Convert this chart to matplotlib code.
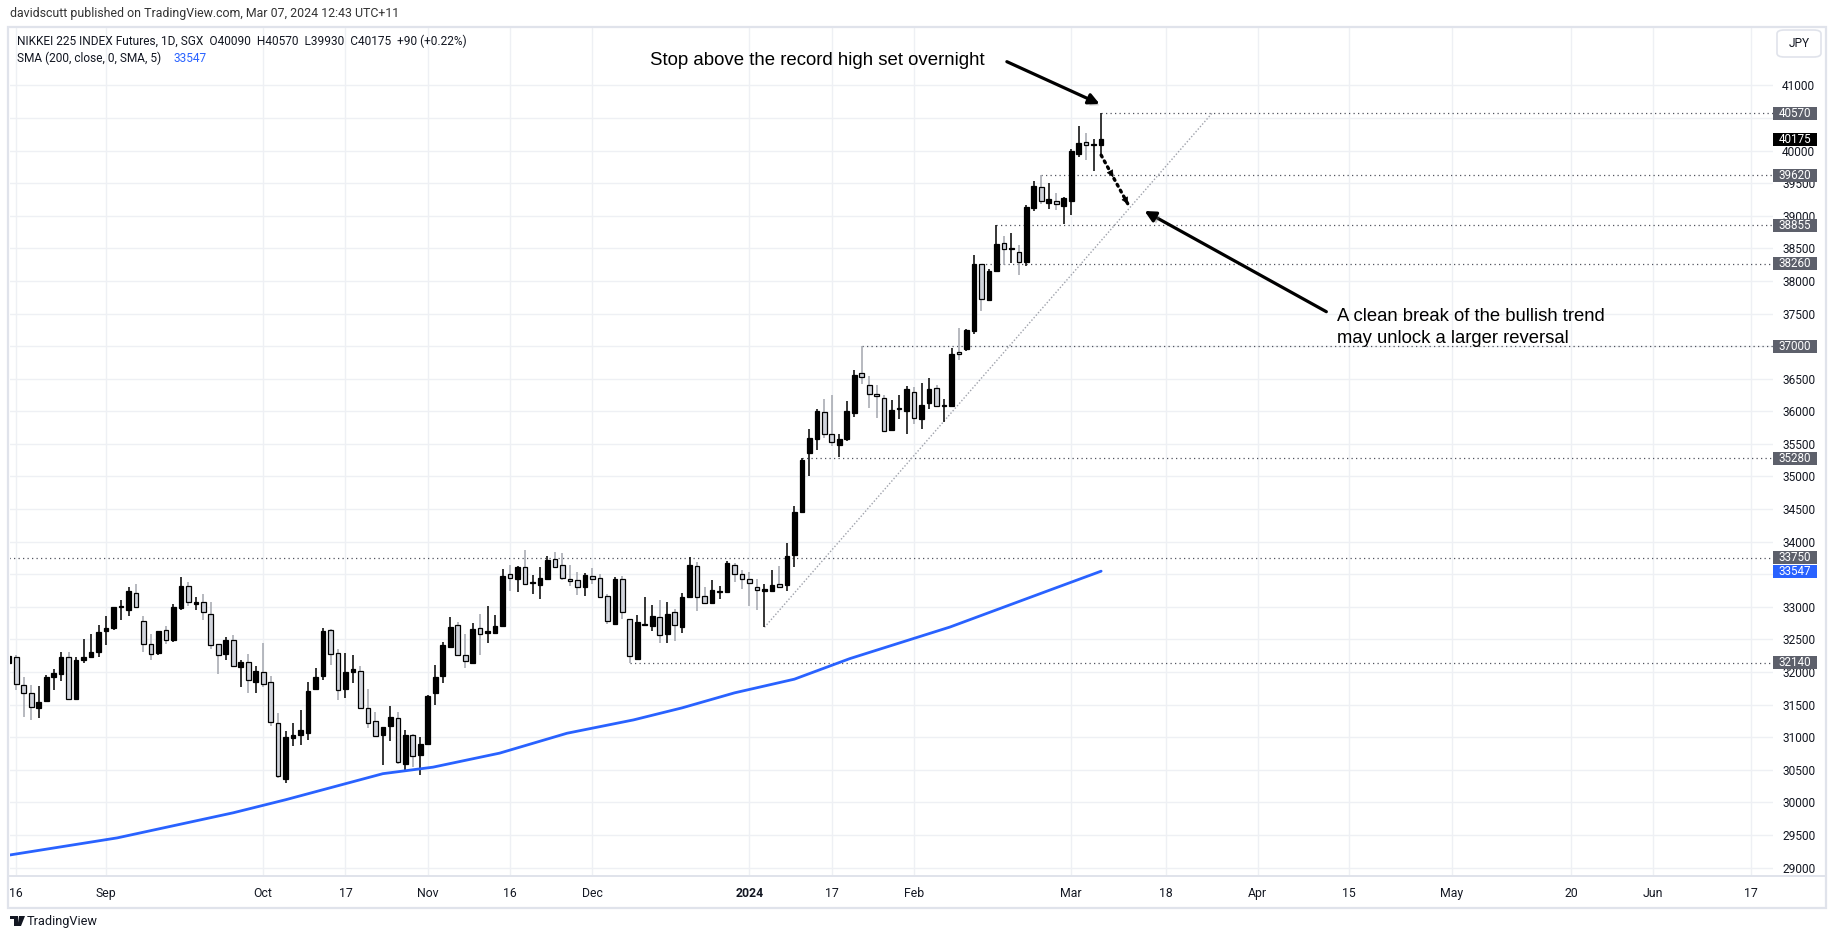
import matplotlib
matplotlib.use("Agg")
import matplotlib.pyplot as plt
import matplotlib.patheffects as pe
from matplotlib.lines import Line2D
from matplotlib.patches import Rectangle, FancyBboxPatch, Polygon
from matplotlib.transforms import blended_transform_factory

# 日足 OHLC（2023-08-15 〜 2024-03-07, 1/1 休場）: バー番号 0..146
OPENS = [32145, 32230, 31795, 31675, 31440, 31550, 31920, 31965, 32230, 31585,
         32180, 32230, 32300, 32625, 32670, 32990, 32950, 33210, 32780, 32430,
         32285, 32645, 32495, 32975, 33320, 33050, 33075, 32890, 32435, 32275,
         32490, 32075, 32150, 31845, 32000, 31845, 31215, 30360, 30980, 31030,
         31060, 31740, 31935, 32645, 32295, 31735, 32000, 32015, 31445, 31250,
         31030, 31165, 31295, 30585, 31035, 30720, 30900, 31675, 31935, 32385,
         32715, 32255, 32145, 32670, 32605, 32605, 32705, 33500, 33430, 33605,
         33360, 33340, 33430, 33730, 33635, 33430, 33405, 33310, 33480, 33435,
         33160, 32740, 33420, 32810, 32205, 32725, 32710, 32840, 32580, 32915,
         32685, 33145, 33620, 33160, 33060, 33225, 33225, 33635, 33500, 33420,
         33310, 33250, 33245, 33355, 33335, 33795, 34455, 35360, 35575, 35995,
         35655, 35485, 35580, 35980, 36590, 36410, 36270, 36205, 35715, 36035,
         36005, 36300, 35880, 36130, 36360, 36085, 36075, 36905, 36955, 37230,
         38255, 37705, 38150, 38585, 38485, 38445, 38295, 39120, 39440, 39190,
         39230, 39155, 39220, 39945, 40130, 40080, 40090]
HIGHS = [32250, 32265, 31920, 31805, 31790, 31960, 32050, 32310, 32300, 32230,
         32510, 32585, 32725, 32865, 33000, 33110, 33310, 33355, 32865, 32585,
         32630, 32700, 33040, 33460, 33385, 33155, 33195, 33075, 32435, 32540,
         32560, 32190, 32280, 32085, 32440, 31945, 31370, 31100, 31215, 31410,
         31850, 32065, 32680, 32660, 32360, 32295, 32265, 32095, 31745, 31390,
         31160, 31485, 31390, 31115, 31055, 30995, 31645, 32105, 32460, 32845,
         32770, 32585, 32745, 32890, 33015, 32870, 33575, 33640, 33625, 33870,
         33485, 33610, 33780, 33835, 33820, 33635, 33530, 33520, 33595, 33505,
         33195, 33455, 33470, 32810, 32870, 33145, 33030, 33105, 33075, 32965,
         33210, 33770, 33680, 33305, 33410, 33315, 33700, 33675, 33565, 33530,
         33420, 33350, 33560, 33620, 33975, 34545, 35280, 35725, 36030, 36195,
         36245, 35655, 36155, 36630, 37000, 36535, 36400, 36245, 36180, 36245,
         36385, 36375, 36440, 36505, 36410, 36195, 36965, 37275, 37265, 38395,
         38265, 38185, 38855, 38695, 38735, 38545, 39160, 39540, 39620, 39495,
         39355, 39285, 40030, 40370, 40265, 40180, 40570]
LOWS = [32145, 31720, 31310, 31260, 31290, 31550, 31720, 31855, 31565, 31585,
        32135, 32215, 32225, 32420, 32640, 32800, 32855, 33000, 32300, 32190,
        32255, 32435, 32460, 32945, 33005, 32945, 32805, 32360, 31970, 32190,
        32085, 31765, 31685, 31685, 31765, 31170, 30375, 30295, 30860, 30885,
        30950, 31740, 31880, 32110, 31575, 31605, 31835, 31435, 31135, 31005,
        30570, 30935, 30585, 30490, 30550, 30415, 30900, 31495, 31830, 32375,
        32265, 32065, 32135, 32265, 32450, 32590, 32695, 33245, 33235, 33345,
        33200, 33125, 33430, 33605, 33410, 33325, 33185, 33170, 33355, 33140,
        32735, 32715, 32820, 32140, 32195, 32725, 32635, 32440, 32450, 32480,
        32595, 33145, 32940, 33055, 33050, 33125, 33225, 33380, 33280, 33015,
        32950, 32685, 33230, 33295, 33245, 33610, 34455, 35010, 35405, 35595,
        35470, 35300, 35545, 35915, 36425, 36050, 35890, 35690, 35715, 35880,
        35655, 35810, 35730, 36035, 36065, 35835, 36065, 36790, 36920, 37190,
        37535, 37705, 38150, 38245, 38270, 38095, 38235, 39080, 39175, 39100,
        39085, 38870, 39005, 39895, 39855, 39685, 39930]
CLOSES = [32250, 31815, 31675, 31460, 31540, 31920, 31990, 32230, 31585, 32190,
          32230, 32310, 32610, 32675, 33000, 33000, 33240, 33000, 32430, 32280,
          32630, 32495, 33000, 33325, 33080, 33060, 32920, 32415, 32260, 32490,
          32090, 32150, 31875, 32015, 31815, 31230, 30410, 31005, 31035, 31110,
          31715, 31920, 32635, 32275, 31725, 32005, 32050, 31445, 31215, 31020,
          31160, 31310, 30615, 31035, 30715, 30895, 31635, 31920, 32420, 32690,
          32265, 32165, 32655, 32580, 32610, 32700, 33470, 33435, 33605, 33345,
          33365, 33435, 33715, 33605, 33435, 33390, 33300, 33485, 33420, 33145,
          32780, 33420, 32915, 32240, 32765, 32730, 32855, 32565, 32885, 32715,
          33145, 33635, 33155, 33055, 33255, 33240, 33675, 33500, 33420, 33360,
          33255, 33255, 33340, 33310, 33785, 34460, 35245, 35595, 36000, 35655,
          35535, 35580, 36010, 36560, 36530, 36270, 36240, 35705, 36025, 36040,
          36335, 35900, 36100, 36345, 36085, 36090, 36885, 36875, 37240, 38255,
          37720, 38145, 38570, 38490, 38490, 38285, 39140, 39460, 39230, 39250,
          39180, 39265, 39995, 40115, 40085, 40085, 40175]

# SMA(200) をチャートから読んだ点（バー番号, 値）
SMA_IDX = [0, 14.5, 30, 37, 50, 56.7, 65.6, 74.6, 83.5, 90, 97, 105, 112.4, 125.8, 139.1, 146]
SMA_VAL = [29190, 29455, 29840, 30040, 30440, 30540, 30755, 31060, 31265, 31450,
           31680, 31890, 32205, 32690, 33255, 33547]

# 水平線（価格, 開始バー）
LEVELS = [40570, 39620, 38855, 38260, 37000, 35280, 33750, 32140]
LEVEL_START = [146, 138, 132, 130, 114, 106, 0, 83]

# トレンドライン（バー番号, 価格）
TREND_X = [101, 160.8]
TREND_Y = [32685, 40570]

# 時間軸ラベル（バー番号）
XTICK_POS = [1, 13, 34, 45, 56, 67, 78, 99, 110, 121, 142,
             154.7, 166.9, 179.1, 192.9, 208.8, 219.7, 232.9]
XTICK_LAB = ["16", "Sep", "Oct", "17", "Nov", "16", "Dec", "2024", "17", "Feb", "Mar",
             "18", "Apr", "15", "May", "20", "Jun", "17"]
YTICKS = list(range(29000, 41001, 500))
YTICK_HIDDEN = [40500, 37000, 33500]   # 価格ラベルの下に完全に隠れている目盛り

W, H = 1835, 939
UI_FONT = ["Roboto", "DejaVu Sans"]
TXT = "#131722"


def fx(x):
    return x / W


def fy(y):
    return 1 - y / H


fig = plt.figure(figsize=(W / 100, H / 100), dpi=100)
fig.patch.set_facecolor("white")
ax = fig.add_axes([fx(10), fy(876), fx(1773) - fx(10), fy(27) - fy(876)])
XMAX = 235.8
ax.set_xlim(0.16, XMAX)
ax.set_ylim(28870, 41896)
for s in ax.spines.values():
    s.set_visible(False)

ax.set_axisbelow(True)
ax.grid(True, color="#eef0f4", lw=1.0)
ax.set_yticks(YTICKS)
ax.set_yticklabels(["" if v in YTICK_HIDDEN else str(v) for v in YTICKS], family=UI_FONT)
ax.yaxis.tick_right()
ax.tick_params(axis="y", length=0, pad=6.5, labelsize=8.6, labelcolor=TXT)
ax.set_xticks(XTICK_POS)
ax.set_xticklabels(XTICK_LAB, family=UI_FONT)
ax.tick_params(axis="x", length=0, pad=8, labelsize=8.8, labelcolor=TXT)
for lab in ax.get_xticklabels():
    if lab.get_text() == "2024":
        lab.set_fontweight("bold")

# ローソク足
n = len(OPENS)
idx = list(range(n))
up = [c >= o for o, c in zip(OPENS, CLOSES)]
wick_col = ["black" if u else "#a3a6ae" for u in up]
ax.vlines(idx, LOWS, HIGHS, colors=wick_col, lw=1.1, zorder=3)
bottoms = [min(o, c) for o, c in zip(OPENS, CLOSES)]
heights = [max(abs(c - o), 18) for o, c in zip(OPENS, CLOSES)]
faces = ["black" if u else "#d1d4dc" for u in up]
ax.bar(idx, heights, bottom=bottoms, width=0.62, color=faces, edgecolor="black",
       linewidth=0.9, zorder=4)

# SMA
ax.plot(SMA_IDX, SMA_VAL, color="#2962ff", lw=2.0, zorder=5, solid_capstyle="round")

# 水平線 + トレンドライン
for p, s in zip(LEVELS, LEVEL_START):
    ax.plot([s, XMAX + 5], [p, p], color="#50535e", lw=0.9, ls=(0, (1, 2.6)), zorder=2)
ax.plot(TREND_X, TREND_Y, color="#9fa2ab", lw=1.0, ls=(0, (1, 1.4)), zorder=2)

# 価格ラベル（右軸）
btr = blended_transform_factory(ax.transAxes, ax.transData)
half = 6.5 * 15.342
bw = 44 / 1763


def price_box(p, fc):
    ax.add_patch(Rectangle((1.0, p - half), bw, 2 * half, transform=btr, clip_on=False,
                           fc=fc, ec="none", zorder=8))
    ax.text(1.0 + bw / 2, p, str(p), transform=btr, ha="center", va="center",
            color="white", fontsize=8.4, family=UI_FONT, zorder=9, clip_on=False)


for p in LEVELS:
    price_box(p, "#5d606b")
price_box(CLOSES[-1], "black")
price_box(SMA_VAL[-1], "#2962ff")

# 注釈
shadow = [pe.SimplePatchShadow(offset=(2, -2), shadow_rgbFace="#777777", alpha=0.35), pe.Normal()]
ax.text(85.7, 41379, "Stop above the record high set overnight", fontsize=13.4,
        family=["Liberation Sans", "DejaVu Sans"], color="black", va="center", ha="left")
ax.annotate("", xy=(len(OPENS) - 1.2, HIGHS[-1] + 145), xytext=(133.4, 41364),
            arrowprops=dict(arrowstyle="-|>", color="black", lw=2.3, mutation_scale=16,
                            shrinkA=0, shrinkB=0, path_effects=shadow), zorder=7)

ax.text(177.5, 37451, "A clean break of the bullish trend", fontsize=13.3,
        family=["Liberation Sans", "DejaVu Sans"], color="black", va="center", ha="left")
ax.text(177.5, 37120, "may unlock a larger reversal", fontsize=13.3,
        family=["Liberation Sans", "DejaVu Sans"], color="black", va="center", ha="left")
ax.annotate("", xy=(151.8, 39073), xytext=(176.1, 37528),
            arrowprops=dict(arrowstyle="-|>", color="black", lw=2.3, mutation_scale=16,
                            shrinkA=0, shrinkB=0, path_effects=shadow), zorder=7)

# 点線の矢印（直近安値からトレンドラインへ）
dot_x = [len(OPENS) - 1, 149.6]
dot_y = [LOWS[-1], 39175]
ax.plot(dot_x, dot_y, color="black", lw=2.4, ls=(0, (0.6, 1.4)), dash_capstyle="round", zorder=6)
for frac in (0.45, 1.0):
    tx = dot_x[0] + (dot_x[1] - dot_x[0]) * frac
    ty = dot_y[0] + (dot_y[1] - dot_y[0]) * frac
    ax.annotate("", xy=(tx, ty), xytext=(tx - 0.3 * (dot_x[1] - dot_x[0]) / 4,
                                          ty - 0.3 * (dot_y[1] - dot_y[0]) / 4),
                arrowprops=dict(arrowstyle="-|>", color="black", lw=0.5, mutation_scale=11,
                                shrinkA=0, shrinkB=0), zorder=6)

# 枠・ヘッダー
fig.add_artist(Rectangle((fx(8), fy(908)), fx(1826) - fx(8), fy(27) - fy(908), fill=False,
                         ec="#e0e3eb", lw=1.6, transform=fig.transFigure))
fig.add_artist(Line2D([fx(8), fx(1826)], [fy(876), fy(876)], color="#e0e3eb", lw=1.4,
                      transform=fig.transFigure))
fig.add_artist(FancyBboxPatch((fx(1777), fy(57)), fx(44), 27 / H,
                              boxstyle="round,pad=0,rounding_size=0.004", fc="white",
                              ec="#e0e3eb", lw=1.2, transform=fig.transFigure))
fig.text(fx(1799), fy(43.5), "JPY", ha="center", va="center", fontsize=8.6,
         family=UI_FONT, color=TXT)

fig.text(fx(10), fy(14), "davidscutt published on TradingView.com, Mar 07, 2024 12:43 UTC+11",
         fontsize=8.9, family=UI_FONT, color="#333333", va="center")
fig.text(fx(17), fy(41), "NIKKEI 225 INDEX Futures, 1D, SGX  O40090  H40570  L39930  C40175  +90 (+0.22%)",
         fontsize=8.6, family=UI_FONT, color=TXT, va="center")
fig.text(fx(17), fy(58), "SMA (200, close, 0, SMA, 5)", fontsize=8.6, family=UI_FONT,
         color=TXT, va="center")
fig.text(fx(173), fy(58), str(SMA_VAL[-1]), fontsize=8.6, family=UI_FONT,
         color="#2962ff", va="center")

# TradingView ロゴ
fig.add_artist(Rectangle((fx(10), fy(919)), fx(8), 3 / H, fc="#131722", ec="none",
                         transform=fig.transFigure))
fig.add_artist(Rectangle((fx(14), fy(926)), fx(4), 10 / H, fc="#131722", ec="none",
                         transform=fig.transFigure))
fig.add_artist(Polygon([(fx(19), fy(916)), (fx(25), fy(916)), (fx(21), fy(926)), (fx(17.5), fy(926))],
                       closed=True, fc="#131722", ec="none", transform=fig.transFigure))
fig.text(fx(27), fy(921), "TradingView", fontsize=9.2, family=UI_FONT, color=TXT, va="center")

fig.savefig("out.png", dpi=100, facecolor="white")
